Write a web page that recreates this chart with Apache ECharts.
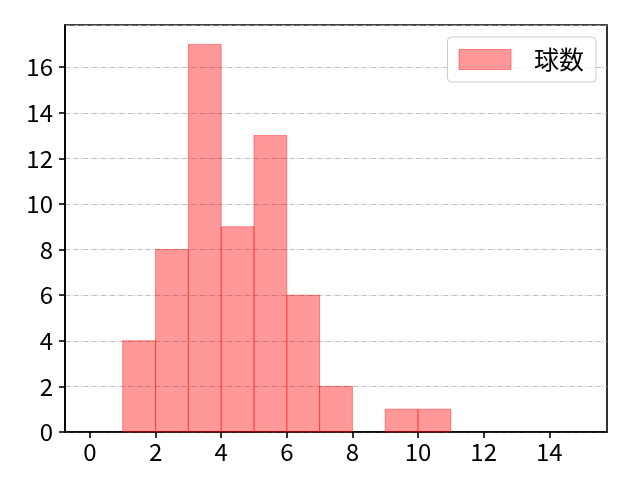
<!DOCTYPE html>
<html>
<head>
<meta charset="utf-8">
<script src="https://cdn.jsdelivr.net/npm/echarts@6/dist/echarts.min.js"></script>
<style>html,body{margin:0;padding:0;background:#fff;}#c{width:640px;height:480px;}</style>
</head>
<body>
<div id="c"></div>
<script>
const binEdges = [1, 2, 3, 4, 5, 6, 7, 8, 9, 10, 11];
const counts = [4, 8, 17, 9, 13, 6, 2, 0, 1, 1];
const xTicks = [0, 2, 4, 6, 8, 10, 12, 14];
const seriesName = '球数';

const data = [];
for (let i = 0; i < counts.length; i++) {
  if (counts[i] > 0) data.push([binEdges[i], binEdges[i + 1], counts[i]]);
}
const FONT = '"Noto Sans CJK JP", "DejaVu Sans", sans-serif';
const chart = echarts.init(document.getElementById('c'));
chart.setOption({
  animation: false,
  backgroundColor: '#fff',
  grid: { left: 65, right: 33, top: 25, bottom: 48, show: true, borderColor: '#000', borderWidth: 1.6, backgroundColor: 'transparent' },
  legend: {
    right: 44, top: 37,
    padding: [10, 12, 10, 11],
    borderColor: '#cccccc', borderWidth: 1, borderRadius: 4,
    backgroundColor: 'rgba(255,255,255,0.8)',
    itemWidth: 52, itemHeight: 20,
    textStyle: { fontFamily: FONT, fontSize: 25, color: '#000', padding: [0, 0, 0, 18] },
    data: [{ name: seriesName, icon: 'rect', itemStyle: { color: 'rgba(255,0,0,0.4)', borderColor: 'rgba(255,0,0,0.4)', borderWidth: 1 } }]
  },
  xAxis: {
    type: 'value', min: -0.76, max: 15.76,
    axisLine: { show: true, onZero: false, lineStyle: { color: '#000', width: 1.6 } },
    axisTick: { show: true, inside: false, length: 6, lineStyle: { color: '#000', width: 1.6 }, customValues: xTicks },
    axisLabel: { fontFamily: FONT, fontSize: 24, color: '#000', margin: 8, customValues: xTicks },
    splitLine: { show: false }
  },
  yAxis: {
    type: 'value', min: 0, max: 17.85, interval: 2,
    axisLine: { show: true, onZero: false, lineStyle: { color: '#000', width: 1.6 } },
    axisTick: { show: true, inside: false, length: 6, lineStyle: { color: '#000', width: 1.6 } },
    axisLabel: { fontFamily: FONT, fontSize: 24, color: '#000', margin: 12, showMaxLabel: false },
    splitLine: { show: true, lineStyle: { color: '#b0b0b0', width: 0.8, type: [5, 1.5, 1, 1.5] } }
  },
  series: [{
    name: seriesName,
    type: 'custom',
    encode: { x: [0, 1], y: 2 },
    data: data,
    renderItem: function (params, api) {
      const p0 = api.coord([api.value(0), 0]);
      const p1 = api.coord([api.value(1), api.value(2)]);
      return {
        type: 'rect',
        shape: { x: p0[0], y: p1[1], width: p1[0] - p0[0], height: p0[1] - p1[1] },
        style: { fill: 'rgba(255,0,0,0.4)', stroke: 'rgba(255,0,0,0.4)', lineWidth: 1 }
      };
    }
  }]
});
</script>
</body>
</html>
